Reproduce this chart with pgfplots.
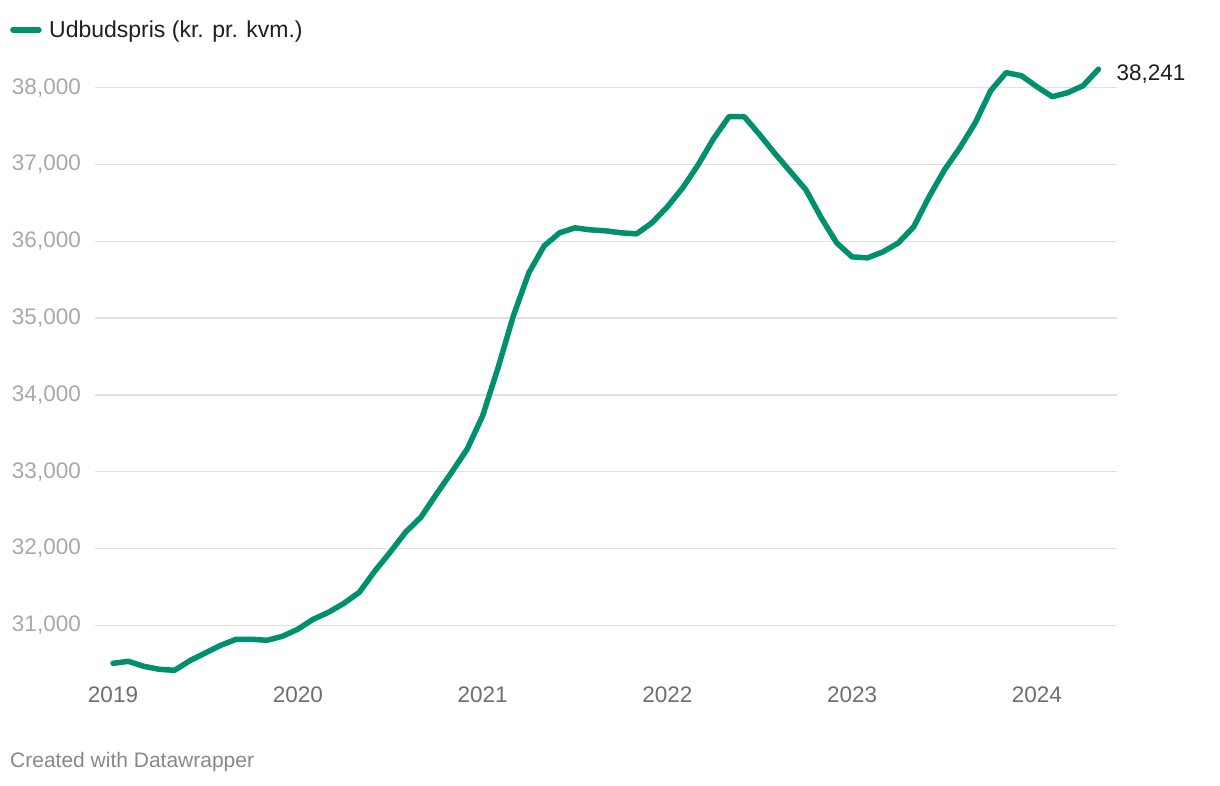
\documentclass[border=0pt]{standalone}
\usepackage{fontspec}
\setmainfont{Liberation Sans}
\usepackage{pgfplots}
\pgfplotsset{compat=1.18}
\definecolor{lineG}{RGB}{0,144,110}
\definecolor{gridc}{RGB}{224,224,224}
\definecolor{ylab}{RGB}{168,168,168}
\definecolor{xlab}{RGB}{110,110,110}
\definecolor{dark}{RGB}{30,30,30}
\definecolor{foot}{RGB}{136,136,136}
\pgfplotstableread{
m v
0 30504
1 30530
2 30465
3 30426
4 30413
5 30540
6 30640
7 30739
8 30817
9 30817
10 30804
11 30856
12 30948
13 31078
14 31169
15 31286
16 31430
17 31704
18 31951
19 32212
20 32407
21 32707
22 32994
23 33294
24 33724
25 34350
26 35028
27 35588
28 35940
29 36110
30 36175
31 36149
32 36136
33 36110
34 36097
35 36240
36 36449
37 36696
38 36996
39 37335
40 37622
41 37622
42 37387
43 37140
44 36905
45 36670
46 36305
47 35979
48 35797
49 35784
50 35862
51 35979
52 36188
53 36580
54 36930
55 37218
56 37544
57 37961
58 38196
59 38156
60 38013
61 37883
62 37935
63 38026
64 38241
}\datatable
\begin{document}
\begin{tikzpicture}[x=1pt,y=1pt]
\path[use as bounding box] (0,0) rectangle (1220,786);
\begin{axis}[
  at={(95pt,107pt)}, anchor=south west,
  width=1022pt, height=622pt, scale only axis,
  xmin=-1.17, xmax=65.2, ymin=30300, ymax=38400,
  axis line style={draw=none},
  major tick style={draw=none}, minor tick style={draw=none},
  xtick={0,12,24,36,48,60},
  xticklabels={2019,2020,2021,2022,2023,2024},
  ytick={31000,32000,33000,34000,35000,36000,37000,38000},
  scaled y ticks=false,
  ymajorgrids=true,
  grid style={color=gridc, line width=1.4pt},
  /pgf/number format/assume math mode=true,
  /pgf/number format/1000 sep={,},
  yticklabel style={color=ylab, font=\fontsize{22.5}{26}\selectfont, anchor=east, inner sep=0pt, xshift=-14pt},
  xticklabel style={color=xlab, font=\fontsize{22.5}{26}\selectfont, anchor=north, inner sep=0pt, yshift=-8pt},
  legend style={at={(-0.0832,1.0434)}, anchor=west, draw=none, fill=none, inner sep=0pt,
    font=\fontsize{23}{27}\selectfont, text=dark},
  legend cell align=left,
  legend image code/.code={\draw[line width=5.5pt, line cap=round, lineG] (2.5pt,0pt) -- (28.5pt,0pt); \path (34pt,0pt);},
  clip=false,
]
\addplot[lineG, line width=5.5pt, line join=round, line cap=round] table[x=m, y=v] {\datatable};
\addlegendentry{Udbudspris (kr. pr. kvm.)}
\node[anchor=west, inner sep=0pt, xshift=18pt, yshift=-5pt, text=dark, font=\fontsize{22.5}{26}\selectfont] at (axis cs:64,38241) {38,241};
\end{axis}
\node[anchor=west, inner sep=0pt, text=foot, font=\fontsize{21}{25}\selectfont] at (10,24) {Created with Datawrapper};
\end{tikzpicture}
\end{document}
